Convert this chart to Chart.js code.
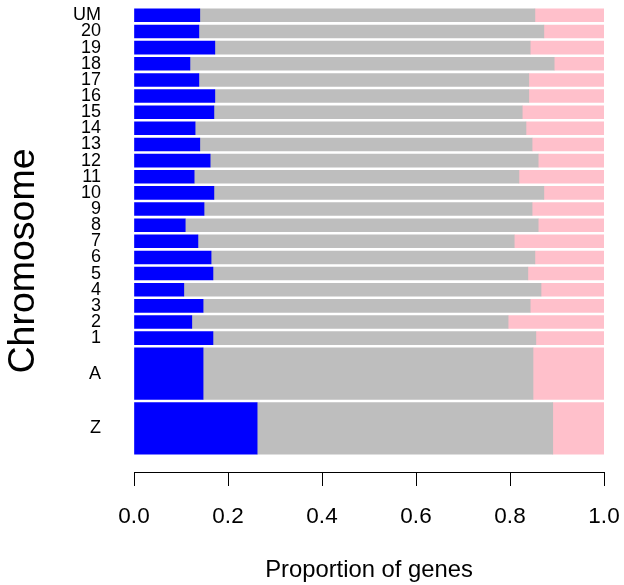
<!DOCTYPE html>
<html><head><meta charset="utf-8">
<script src="https://cdn.jsdelivr.net/npm/chart.js@4/dist/chart.umd.min.js"></script>
<style>html,body{margin:0;padding:0;background:#fff}canvas{display:block}</style>
</head><body>
<canvas id="c" width="624" height="585"></canvas>
<script>
// Categories top-to-bottom as drawn
const categories = ['UM','20','19','18','17','16','15','14','13','12','11','10','9','8','7','6','5','4','3','2','1','A','Z'];
// Relative bar widths (A and Z are drawn wider)
const barWidths = [1,1,1,1,1,1,1,1,1,1,1,1,1,1,1,1,1,1,1,1,1,4,4];
// Proportion of genes in each class
const blueShare = [0.140,0.138,0.172,0.119,0.138,0.172,0.170,0.130,0.140,0.162,0.128,0.170,0.149,0.109,0.136,0.164,0.168,0.106,0.147,0.123,0.168,0.147,0.262];
const grayShare = [0.713,0.734,0.671,0.775,0.702,0.668,0.656,0.704,0.707,0.698,0.691,0.702,0.698,0.751,0.673,0.689,0.670,0.760,0.696,0.673,0.687,0.702,0.629];
const pinkShare = [0.147,0.128,0.157,0.106,0.160,0.160,0.174,0.166,0.153,0.140,0.181,0.128,0.153,0.140,0.191,0.147,0.162,0.134,0.157,0.204,0.145,0.151,0.109];
const xTicks = [0, 0.2, 0.4, 0.6, 0.8, 1.0];
const seriesColors = ['#0000FF', '#BEBEBE', '#FFC0CB'];

const FONT = '"Liberation Sans", Arial, Helvetica, sans-serif';
const W = 624, H = 585, X_AXIS_H = 113, Y_AXIS_W = 134, PAD_RIGHT = 20;

// barplot-style layout (bottom-first), space = 0.2 * mean width
const n = categories.length;
const meanW = barWidths.reduce((a, b) => a + b, 0) / n;
const space = 0.2 * meanW;
const center = new Array(n);
let cum = 0;
for (let k = n - 1; k >= 0; k--) { cum += space + barWidths[k]; center[k] = cum - barWidths[k] / 2; }
const lo = space, hi = cum, range = hi - lo;
const yMin = lo - 0.04 * range, yMax = hi + 0.02 * range;
const unitPx = (H - X_AXIS_H) / (yMax - yMin);

const shares = [blueShare, grayShare, pinkShare];
const groups = [...new Set(barWidths)];
const datasets = [];
groups.forEach(w => {
  shares.forEach((arr, s) => {
    const data = [];
    for (let i = 0; i < n; i++) if (barWidths[i] === w) data.push({ x: arr[i], y: center[i] });
    datasets.push({ data, backgroundColor: seriesColors[s], borderWidth: 0, barThickness: w * unitPx, stack: 'all' });
  });
});

const yTitlePlugin = {
  id: 'yTitle',
  afterDraw(chart) {
    const ctx = chart.ctx;
    ctx.save();
    ctx.translate(24, 261);
    ctx.rotate(-Math.PI / 2);
    ctx.font = '37.5px ' + FONT;
    ctx.textAlign = 'center';
    ctx.textBaseline = 'middle';
    ctx.fillStyle = '#000';
    ctx.fillText('Chromosome', 0, 0);
    ctx.restore();
  }
};

function noPad(s) { s.paddingTop = 0; s.paddingBottom = 0; s.paddingLeft = 0; s.paddingRight = 0; }

new Chart(document.getElementById('c'), {
  type: 'bar',
  data: { datasets },
  plugins: [yTitlePlugin],
  options: {
    indexAxis: 'y', responsive: false, animation: false,
    layout: { padding: { top: 0, right: PAD_RIGHT, left: 0, bottom: 0 } },
    plugins: { legend: { display: false }, tooltip: { enabled: false } },
    scales: {
      x: {
        type: 'linear', min: 0, max: 1, stacked: true, offset: false,
        afterBuildTicks: s => { s.ticks = xTicks.map(v => ({ value: v })); },
        afterFit: s => { s.height = X_AXIS_H; noPad(s); },
        grid: { drawOnChartArea: false, drawTicks: true, tickLength: 14, color: '#000', lineWidth: 1 },
        border: { display: true, color: '#000', width: 1 },
        ticks: { color: '#000', font: { family: FONT, size: 22.5 }, padding: 17, maxRotation: 0, autoSkip: false, callback: v => Number(v).toFixed(1) },
        title: { display: true, text: 'Proportion of genes', color: '#000', font: { family: FONT, size: 23.8, lineHeight: 1.2 }, padding: 0 }
      },
      y: {
        type: 'linear', min: yMin, max: yMax, stacked: true, offset: false,
        afterBuildTicks: s => { s.ticks = center.map(v => ({ value: v })); },
        afterFit: s => { s.width = Y_AXIS_W; noPad(s); },
        grid: { display: false, drawTicks: false, offset: false }, border: { display: false },
        ticks: { color: '#000', font: { family: FONT, size: 18 }, padding: 33, autoSkip: false,
                 callback: v => { const i = center.findIndex(c => Math.abs(c - v) < 1e-6); return i >= 0 ? categories[i] : ''; } }
      }
    }
  }
});
</script>
</body></html>
